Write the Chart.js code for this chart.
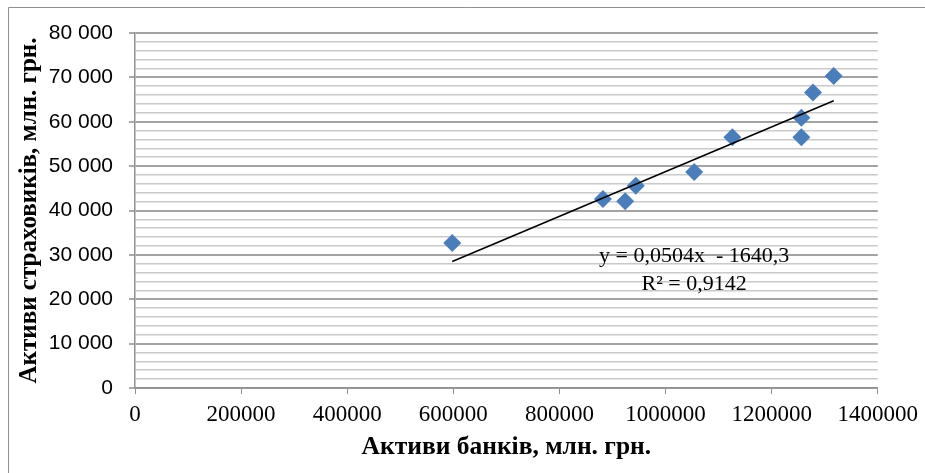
<!DOCTYPE html>
<html>
<head>
<meta charset="utf-8">
<script src="https://cdn.jsdelivr.net/npm/chart.js@4/dist/chart.umd.min.js"></script>
<style>
  html, body { margin: 0; padding: 0; background: #ffffff; }
  #wrap { width: 925px; height: 473px; }
</style>
</head>
<body>
<div id="wrap"><canvas id="chart" width="925" height="473"></canvas></div>
<script>
// Assets of banks (x) and of insurers (y), mln UAH
const bankAssets    = [598000, 882000, 924000, 944000, 1054000, 1126000, 1256000, 1256000, 1278000, 1317000];
const insurerAssets = [32700, 42600, 42100, 45600, 48700, 56500, 60900, 56500, 66600, 70300];

// Axis tick labels
const xTickLabels = ['0', '200000', '400000', '600000', '800000', '1000000', '1200000', '1400000'];
const yTickLabels = ['0', '10 000', '20 000', '30 000', '40 000', '50 000', '60 000', '70 000', '80 000'];

// Linear trend line: y = a*x + b, with its R²
const trendSlope = 0.0504;
const trendIntercept = -1640.3;
const trendR2 = 0.9142;

const xTitle = 'Активи банків, млн. грн.';
const yTitle = 'Активи страховиків, млн. грн.';

const X_STEP = 200000, Y_MAJOR = 10000, Y_MINOR = 2000;

const points = bankAssets.map((x, i) => ({ x, y: insurerAssets[i] }));
const xMin = Math.min(...bankAssets), xMax = Math.max(...bankAssets);
const trendPoints = [xMin, xMax].map(x => ({ x, y: trendSlope * x + trendIntercept }));

const dec = v => String(v).replace('.', ',');
const eqLines = [
  'y = ' + dec(trendSlope) + 'x  - ' + dec(Math.abs(trendIntercept)),
  'R² = ' + dec(trendR2)
];
// where the equation box sits, in data units
const eqAnchor = { x: 1054000, y: 29800 };

const frame = {
  id: 'frame',
  beforeDraw(chart) {
    const c = chart.ctx;
    c.save();
    c.fillStyle = '#ffffff';
    c.fillRect(0, 0, chart.width, chart.height);
    c.strokeStyle = '#8f8f8f';
    c.lineWidth = 1;
    c.beginPath();
    c.moveTo(8.5, chart.height);
    c.lineTo(8.5, 7.5);
    c.lineTo(chart.width, 7.5);
    c.stroke();
    c.restore();
  }
};

const equation = {
  id: 'equation',
  afterDatasetsDraw(chart) {
    const c = chart.ctx;
    const px = chart.scales.x.getPixelForValue(eqAnchor.x);
    const py = chart.scales.y.getPixelForValue(eqAnchor.y);
    c.save();
    c.fillStyle = '#000000';
    c.font = '22px "Liberation Serif", "Times New Roman", serif';
    c.textAlign = 'center';
    c.textBaseline = 'middle';
    c.fillText(eqLines[0], px, py);
    c.fillText(eqLines[1], px, py + 28);
    c.restore();
  }
};

new Chart(document.getElementById('chart'), {
  type: 'scatter',
  data: {
    datasets: [
      {
        label: 'trend',
        type: 'line',
        data: trendPoints,
        borderColor: '#000000',
        borderWidth: 1.5,
        pointRadius: 0,
        fill: false,
        order: 0
      },
      {
        label: 'assets',
        data: points,
        pointStyle: 'rectRot',
        pointRadius: 9,
        pointHoverRadius: 9,
        backgroundColor: '#4a7ebb',
        borderColor: '#4a7ebb',
        borderWidth: 0,
        order: 1
      }
    ]
  },
  options: {
    responsive: false,
    animation: false,
    devicePixelRatio: 1,
    layout: { padding: { top: 33, right: 45, bottom: 0, left: 0 } },
    plugins: { legend: { display: false }, tooltip: { enabled: false } },
    scales: {
      x: {
        type: 'linear',
        min: 0,
        max: 1400000,
        afterFit(s) { s.height = 85; },
        ticks: {
          stepSize: X_STEP,
          autoSkip: false,
          maxRotation: 0,
          padding: 7,
          color: '#000000',
          font: { family: '"Liberation Serif", "Times New Roman", serif', size: 23 },
          callback: v => xTickLabels[Math.round(v / X_STEP)]
        },
        grid: {
          drawOnChartArea: false,
          drawTicks: true,
          tickLength: 6,
          tickColor: '#8f8f8f',
          tickWidth: 1
        },
        border: { display: true, color: '#8f8f8f', width: 1.5 },
        title: {
          display: true,
          text: xTitle,
          color: '#000000',
          font: { family: '"Liberation Serif", "Times New Roman", serif', size: 25.5, weight: 'bold' },
          padding: { top: 0, bottom: 10 }
        }
      },
      y: {
        type: 'linear',
        min: 0,
        max: 80000,
        afterFit(s) { s.width = 135; },
        ticks: {
          stepSize: Y_MINOR,
          maxTicksLimit: 100,
          autoSkip: false,
          padding: 16,
          color: '#000000',
          font: { family: '"Liberation Sans", Arial, sans-serif', size: 21 },
          callback: v => (v % Y_MAJOR === 0 ? yTickLabels[v / Y_MAJOR] : '')
        },
        grid: {
          drawTicks: true,
          tickLength: 6,
          color: ctx => (ctx.tick && ctx.tick.value % Y_MAJOR === 0 ? '#a3a3a3' : '#cacaca'),
          lineWidth: ctx => (ctx.tick && ctx.tick.value % Y_MAJOR === 0 ? 2 : 1.6),
          tickColor: ctx => (ctx.tick && ctx.tick.value % Y_MAJOR === 0 ? '#8f8f8f' : 'rgba(0,0,0,0)'),
          tickWidth: 1.5
        },
        border: { display: true, color: '#8f8f8f', width: 1.5 },
        title: {
          display: true,
          text: yTitle,
          color: '#000000',
          font: { family: '"Liberation Serif", "Times New Roman", serif', size: 25, weight: 'bold' },
          padding: { top: 15, bottom: 0 }
        }
      }
    }
  },
  plugins: [frame, equation]
});
</script>
</body>
</html>
